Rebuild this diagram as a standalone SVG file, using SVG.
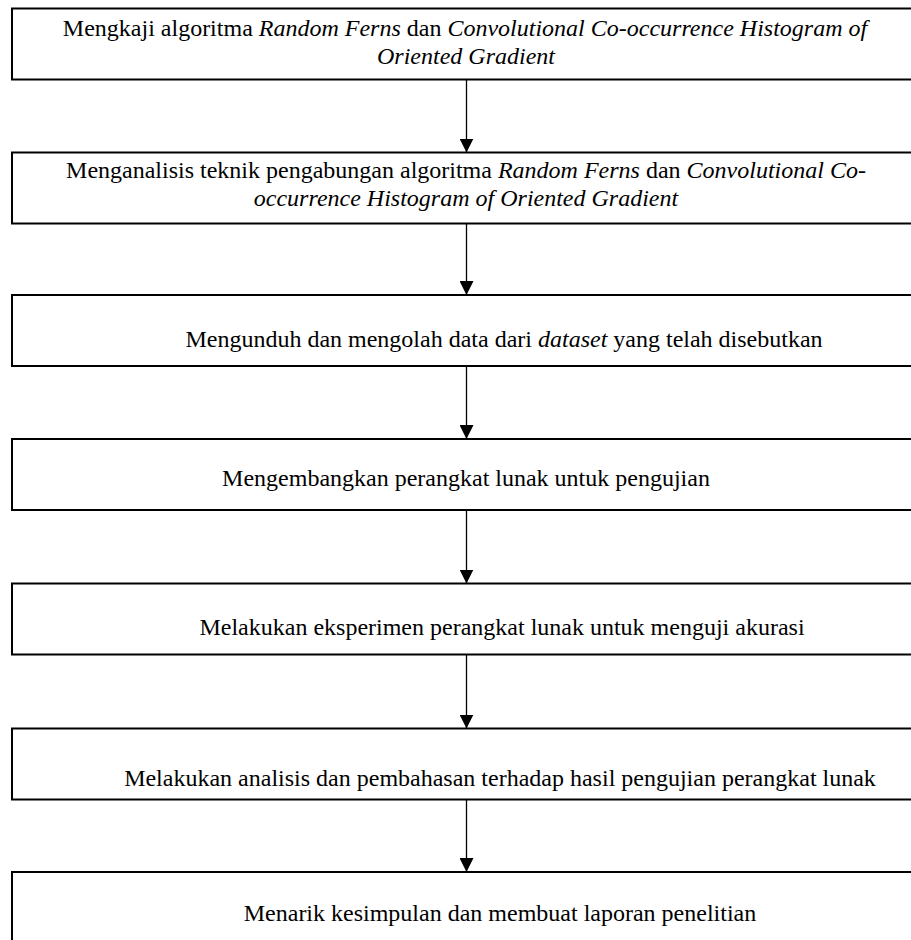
<svg xmlns="http://www.w3.org/2000/svg" width="911" height="940" viewBox="0 0 911 940">
<defs>
<style>
.box{fill:#fff;stroke:#000;stroke-width:2}
.t{font-family:"Liberation Serif","Times New Roman",serif;font-size:24px;fill:#000;text-anchor:middle}
.i{font-style:italic}
.c{stroke:#000;stroke-width:1.3;fill:none}
</style>
<marker id="ah" markerUnits="userSpaceOnUse" markerWidth="14" markerHeight="14" refX="14" refY="7" orient="auto" viewBox="0 0 14 14">
<path d="M0,0 L14,7 L0,14 Z" fill="#000"/>
</marker>
</defs>
<rect width="911" height="940" fill="#fff"/>
<g id="connectors">
<line class="c" x1="466.5" y1="79.5" x2="466.5" y2="152.5" marker-end="url(#ah)"/>
<line class="c" x1="466.5" y1="223.5" x2="466.5" y2="295" marker-end="url(#ah)"/>
<line class="c" x1="466.5" y1="366" x2="466.5" y2="439" marker-end="url(#ah)"/>
<line class="c" x1="466.5" y1="510" x2="466.5" y2="583.5" marker-end="url(#ah)"/>
<line class="c" x1="466.5" y1="654.5" x2="466.5" y2="728.5" marker-end="url(#ah)"/>
<line class="c" x1="466.5" y1="799.5" x2="466.5" y2="872" marker-end="url(#ah)"/>
</g>
<g id="n1">
<rect class="box" x="12" y="8.5" width="920" height="71"/>
<text class="t" x="465" y="36">Mengkaji algoritma <tspan class="i">Random Ferns</tspan> dan <tspan class="i">Convolutional Co-occurrence Histogram of</tspan></text>
<text class="t i" x="466" y="64">Oriented Gradient</text>
</g>
<g id="n2">
<rect class="box" x="12" y="152.5" width="920" height="71"/>
<text class="t" x="466" y="178">Menganalisis teknik pengabungan algoritma <tspan class="i">Random Ferns</tspan> dan <tspan class="i">Convolutional Co-</tspan></text>
<text class="t i" x="466" y="206">occurrence Histogram of Oriented Gradient</text>
</g>
<g id="n3">
<rect class="box" x="12" y="295" width="920" height="71"/>
<text class="t" x="504" y="347">Mengunduh dan mengolah data dari <tspan class="i">dataset</tspan> yang telah disebutkan</text>
</g>
<g id="n4">
<rect class="box" x="12" y="439" width="920" height="71"/>
<text class="t" x="466" y="486">Mengembangkan perangkat lunak untuk pengujian</text>
</g>
<g id="n5">
<rect class="box" x="12" y="583.5" width="920" height="71"/>
<text class="t" x="502" y="635">Melakukan eksperimen perangkat lunak untuk menguji akurasi</text>
</g>
<g id="n6">
<rect class="box" x="12" y="728.5" width="920" height="71"/>
<text class="t" x="500" y="786">Melakukan analisis dan pembahasan terhadap hasil pengujian perangkat lunak</text>
</g>
<g id="n7">
<rect class="box" x="12" y="872" width="920" height="100"/>
<text class="t" x="500" y="921">Menarik kesimpulan dan membuat laporan penelitian</text>
</g>
</svg>
